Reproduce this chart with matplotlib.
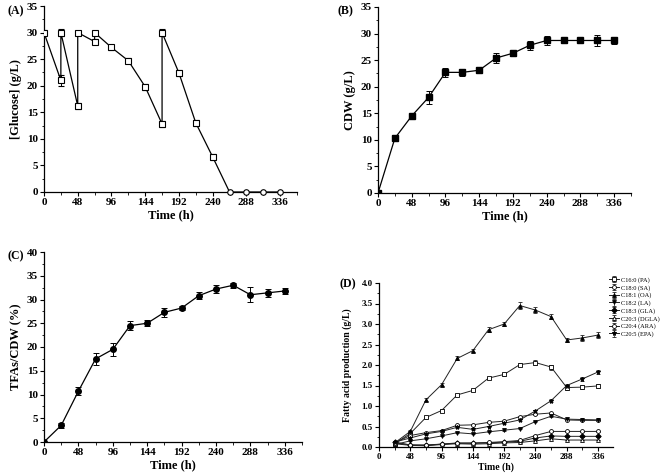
import matplotlib
matplotlib.use("Agg")
import matplotlib.pyplot as plt
from matplotlib.ticker import MultipleLocator

plt.rcParams['font.family'] = ['Liberation Serif', 'DejaVu Serif']
plt.rcParams['font.weight'] = 'bold'

# ---- Panel A: glucose ----
glc_t = [0, 24, 24, 48, 48, 72, 72, 96, 120, 144, 168, 168, 192, 216, 240, 264, 288, 312, 336]
glc_v = [30, 21, 30, 16.2, 30, 28.3, 30, 27.2, 24.7, 19.8, 12.8, 30, 22.4, 13.0, 6.6, 0, 0, 0, 0]
glc_e = [0.5, 1.0, 0.6, 0.6, 0.2, 0.5, 0.3, 0.5, 0.5, 0.6, 0.6, 0.7, 0.5, 0.6, 0.6, 0, 0, 0, 0]

# ---- Panel B: CDW ----
cdw_t = [0, 24, 48, 72, 96, 120, 144, 168, 192, 216, 240, 264, 288, 312, 336]
cdw_v = [0, 10.3, 14.5, 18.0, 22.7, 22.7, 23.1, 25.4, 26.3, 27.8, 28.7, 28.7, 28.7, 28.7, 28.7]
cdw_e = [0, 0.6, 0.4, 1.2, 0.8, 0.6, 0.6, 1.0, 0.5, 0.8, 0.9, 0.4, 0.2, 1.1, 0.6]

# ---- Panel C: TFAs/CDW ----
tfa_t = [0, 24, 48, 72, 96, 120, 144, 168, 192, 216, 240, 264, 288, 312, 336]
tfa_v = [0, 3.5, 10.7, 17.5, 19.5, 24.5, 25.0, 27.3, 28.2, 30.8, 32.2, 33.0, 31.0, 31.4, 31.8]
tfa_e = [0, 0.6, 0.8, 1.2, 1.3, 0.9, 0.6, 1.0, 0.5, 0.7, 0.9, 0.5, 1.6, 0.9, 0.6]

# ---- Panel D: fatty acids ----
fa_t = [24, 48, 72, 96, 120, 144, 168, 192, 216, 240, 264, 288, 312, 336]
fa_names = ['C16:0 (PA)', 'C18:0 (SA)', 'C18:1 (OA)', 'C18:2 (LA)', 'C18:3 (GLA)',
            'C20:3 (DGLA)', 'C20:4 (ARA)', 'C20:5 (EPA)']
PA = [0.08, 0.33, 0.72, 0.89, 1.27, 1.38, 1.68, 1.77, 2.01, 2.06, 1.95, 1.45, 1.46, 1.49]
SA = [0.10, 0.28, 0.35, 0.40, 0.53, 0.54, 0.60, 0.63, 0.74, 0.80, 0.83, 0.66, 0.65, 0.65]
OA = [0.10, 0.38, 1.15, 1.52, 2.16, 2.35, 2.86, 3.00, 3.45, 3.34, 3.18, 2.61, 2.66, 2.73]
LA = [0.06, 0.15, 0.20, 0.27, 0.35, 0.32, 0.37, 0.41, 0.45, 0.62, 0.75, 0.68, 0.67, 0.66]
GLA = [0.12, 0.05, 0.04, 0.07, 0.09, 0.09, 0.10, 0.12, 0.14, 0.22, 0.27, 0.26, 0.26, 0.26]
DGLA = [0.08, 0.04, 0.03, 0.06, 0.08, 0.07, 0.08, 0.10, 0.11, 0.15, 0.20, 0.17, 0.17, 0.17]
ARA = [0.10, 0.05, 0.05, 0.07, 0.10, 0.10, 0.11, 0.13, 0.16, 0.28, 0.38, 0.38, 0.38, 0.38]
EPA = [0.12, 0.22, 0.32, 0.38, 0.48, 0.43, 0.50, 0.58, 0.66, 0.88, 1.13, 1.50, 1.66, 1.83]
PA_e = [0.01, 0.02, 0.02, 0.03, 0.03, 0.02, 0.03, 0.03, 0.04, 0.05, 0.06, 0.05, 0.05, 0.05]
OA_e = [0.02, 0.03, 0.04, 0.04, 0.05, 0.03, 0.06, 0.06, 0.09, 0.08, 0.07, 0.06, 0.08, 0.08]
EPA_e = [0.01, 0.02, 0.02, 0.02, 0.02, 0.02, 0.02, 0.02, 0.02, 0.03, 0.03, 0.04, 0.04, 0.05]
small_e = [0.01] * 14

fig = plt.figure(figsize=(6.63, 4.74), dpi=100)
W, H = 663, 474

def add_ax(x0, x1, ytop, ybot):
    return fig.add_axes([x0 / W, 1 - ybot / H, (x1 - x0) / W, (ybot - ytop) / H])

def style(ax, xlabel, ylabel, ymax, ymaj, ymin, xlab_off, fs=8, lfs=9, xmax=360):
    ax.set_xlim(0, xmax)
    ax.set_ylim(0, ymax)
    ax.xaxis.set_minor_locator(MultipleLocator(24))
    ax.yaxis.set_major_locator(MultipleLocator(ymaj))
    ax.yaxis.set_minor_locator(MultipleLocator(ymin))
    ax.set_xticks([0, 48, 96, 144, 192, 240, 288, 336])
    for s in ['top', 'right']:
        ax.spines[s].set_visible(False)
    for s in ['left', 'bottom']:
        ax.spines[s].set_linewidth(0.9)
    ax.tick_params(which='major', direction='out', length=3, width=0.8, labelsize=fs, pad=1.5)
    ax.tick_params(which='minor', direction='out', length=1.8, width=0.6)
    for lab in ax.get_xticklabels() + ax.get_yticklabels():
        lab.set_fontweight('bold')
    ax.set_xlabel(xlabel, fontsize=lfs, fontweight='bold', va='center')
    ax.xaxis.set_label_coords(0.5, -xlab_off)
    ax.set_ylabel(ylabel, fontsize=lfs, fontweight='bold', labelpad=3)

eb_kw = dict(color='black', lw=0.9, elinewidth=0.7, capsize=2.2, capthick=0.7, markersize=4)

# Panel A
axA = add_ax(44, 297, 6, 192)
axA.plot(glc_t, glc_v, color='black', lw=0.9, zorder=2)
axA.errorbar(glc_t[:15], glc_v[:15], yerr=glc_e[:15], fmt='s', mfc='white', mec='black',
             mew=0.8, ecolor='black', elinewidth=0.7, capsize=2.2, capthick=0.7, markersize=4, zorder=3)
axA.plot(glc_t[15:], glc_v[15:], 'o', mfc='white', mec='black', mew=0.8, markersize=4,
         zorder=4, clip_on=False)
style(axA, 'Time (h)', '[Glucose] (g/L)', 35, 5, 2.5, (215 - 192) / 186)

# Panel B
axB = add_ax(378, 631, 7, 193)
axB.errorbar(cdw_t, cdw_v, yerr=cdw_e, fmt='-s', mfc='black', mec='black', **eb_kw)
style(axB, 'Time (h)', 'CDW (g/L)', 35, 5, 2.5, (216 - 193) / 186)

# Panel C
axC = add_ax(44, 302, 252, 442)
axC.errorbar(tfa_t, tfa_v, yerr=tfa_e, fmt='-o', mfc='black', mec='black', **eb_kw)
style(axC, 'Time (h)', 'TFAs/CDW (%)', 40, 5, 2.5, (465 - 442) / 190)

# Panel D
axD = add_ax(379, 613, 283, 447)
series = [PA, SA, OA, LA, GLA, DGLA, ARA, EPA]
errs = [PA_e, small_e, OA_e, small_e, small_e, small_e, small_e, EPA_e]
markers = ['s', 'o', '^', 'v', 'D', '^', 'o', '*']
filled = [False, False, True, True, True, False, False, True]
for name, vals, e, m, f in zip(fa_names, series, errs, markers, filled):
    axD.errorbar(fa_t, vals, yerr=e, fmt='-' + m, color='#222222', lw=0.7,
                 mfc=('black' if f else 'white'), mec='black', mew=0.6,
                 markersize=(2.8 if m != '*' else 3.6), elinewidth=0.5, capsize=1.6,
                 capthick=0.5, label=name)
style(axD, 'Time (h)', 'Fatty acid production (g/L)', 4.0, 0.5, 0.25, (467 - 447) / 164,
      fs=6.5, lfs=7, xmax=359)
axD.yaxis.labelpad = 7

handles, labels = axD.get_legend_handles_labels()
leg = fig.legend(handles, labels, loc='upper left', bbox_to_anchor=(609 / W, 1 - 277 / H),
                 frameon=False, fontsize=4.6, handlelength=1.6, handletextpad=0.25,
                 labelspacing=0.3, borderaxespad=0, borderpad=0)
for t in leg.get_texts():
    t.set_fontweight('normal')

# Panel labels
fig.text(8 / W, 1 - 11 / H, '(A)', fontsize=8.5, fontweight='bold', va='center')
fig.text(337 / W, 1 - 11 / H, '(B)', fontsize=8.5, fontweight='bold', va='center')
fig.text(8 / W, 1 - 256 / H, '(C)', fontsize=8.5, fontweight='bold', va='center')
fig.text(340 / W, 1 - 284 / H, '(D)', fontsize=8.5, fontweight='bold', va='center')

fig.savefig('out.png', dpi=100)
